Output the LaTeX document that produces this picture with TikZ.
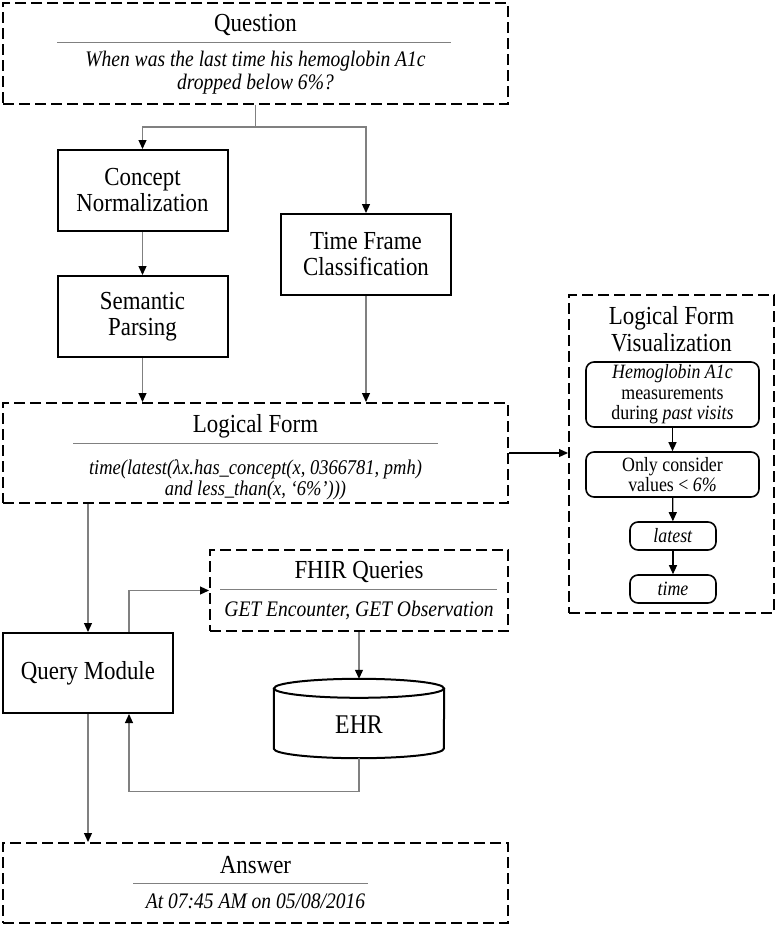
\documentclass[tikz,border=0pt]{standalone}
\usepackage{fontspec}
\setmainfont{Liberation Serif}[FakeStretch=0.88]
\usetikzlibrary{arrows.meta,positioning}
\definecolor{linegray}{rgb}{0.5,0.5,0.5}

\tikzset{
    solidbox/.style={draw, line width=2pt, minimum width=170pt, minimum height=81pt,
        align=center, font=\fontsize{26}{26}\selectfont},
    dashbox/.style={draw, line width=2pt, dash pattern=on 11pt off 5pt, inner sep=0pt},
    vizstep/.style={draw, line width=1.6pt, rounded corners=8pt, align=center,
        inner sep=0pt, font=\fontsize{20.3}{20.5}\selectfont},
    heading/.style={inner sep=0pt, align=center, font=\fontsize{26}{27}\selectfont},
    subtext/.style={inner sep=0pt, align=center, font=\fontsize{22.2}{22.5}\selectfont\itshape},
    sepline/.style={linegray, line width=1pt},
    conn/.style={linegray, line width=1.2pt, -{Triangle[color=black, length=9pt, width=8pt]}},
    flow/.style={black, line width=1.2pt, -{Triangle[length=9pt, width=8pt]}}
}

\begin{document}
\begin{tikzpicture}[x=1pt, y=-1pt]
    \useasboundingbox (0,0) rectangle (777,927);

    % question
    \node[dashbox, minimum width=505pt, minimum height=101pt] (question) at (255.5,53.5) {};
    \node[heading] (qtitle) at (255.5,25) {Question};
    \draw[sepline] (57,42) -- (451,42);
    \node[subtext] (qtext) at (255.5,72.5)
        {When was the last time his hemoglobin A1c\\dropped below 6\%?};

    \node[solidbox] (concept) at (142.5,190.5) {Concept\\Normalization};
    \node[solidbox] (semantic) at (142.5,316.5) {Semantic\\Parsing};
    \node[solidbox] (timeframe) at (366,254.5) {Time Frame\\Classification};

    % logical form
    \node[dashbox, minimum width=505pt, minimum height=100pt] (logical) at (255.5,453) {};
    \node[heading] (ltitle) at (255.5,426) {Logical Form};
    \draw[sepline] (73,443) -- (438,443);
    \node[subtext, font=\fontsize{21}{21}\selectfont\itshape] (ltext) at (255.5,480)
        {time(latest(λx.has\_concept(x, 0366781, pmh)\\and less\_than(x, ‘6\%’)))};

    % visualization
    \node[dashbox, minimum width=205pt, minimum height=318pt] (viz) at (671.5,454) {};
    \node[heading] (vtitle) at (671.5,329.5) {Logical Form\\Visualization};
    \node[vizstep, minimum width=173pt, minimum height=65pt] (hemo) at (672.5,394.5)
        {\textit{Hemoglobin A1c}\\measurements\\during \textit{past visits}};
    \node[vizstep, minimum width=173pt, minimum height=45pt] (consider) at (672.5,474.5)
        {Only consider\\values < \textit{6\%}};
    \node[vizstep, minimum width=86pt, minimum height=28pt] (latest) at (673,536) {\textit{latest}};
    \node[vizstep, minimum width=86pt, minimum height=28pt] (time) at (673,589) {\textit{time}};

    % fhir queries
    \node[dashbox, minimum width=298pt, minimum height=81pt] (fhir) at (359,590.5) {};
    \node[heading] (ftitle) at (359,572) {FHIR Queries};
    \draw[sepline] (220,589) -- (497,589);
    \node[subtext] (ftext) at (359,610) {GET Encounter, GET Observation};

    \node[solidbox, minimum height=80pt] (query) at (88,673) {Query Module};

    % ehr
    \node[minimum width=170pt, minimum height=79pt, inner sep=0pt, text height=29pt, text depth=0pt,
        font=\fontsize{27}{27}\selectfont] (ehr) at (359,718.5) {EHR};
    \draw[line width=2pt] ([yshift=-9.5pt]ehr.north west) -- ([yshift=9.5pt]ehr.south west)
        arc[start angle=180, end angle=360, x radius=85pt, y radius=9.5pt]
        -- ([yshift=-9.5pt]ehr.north east);
    \draw[line width=2pt] ([yshift=-9.5pt]ehr.north) ellipse [x radius=85pt, y radius=9.5pt];

    % answer
    \node[dashbox, minimum width=505pt, minimum height=80pt] (answer) at (255.5,883) {};
    \node[heading] (atitle) at (255.5,865) {Answer};
    \draw[sepline] (133,883) -- (368,883);
    \node[subtext] (atext) at (255.5,901) {At 07:45 AM on 05/08/2016};

    % connectors
    \coordinate (split) at (255.5,127);
    \draw[linegray, line width=1.2pt] (question.south) -- (split);
    \draw[conn] (split) -| (concept.north);
    \draw[conn] (split) -| (timeframe.north);
    \draw[conn] (concept) -- (semantic);
    \draw[conn] (semantic) -- (semantic |- logical.north);
    \draw[conn] (timeframe) -- (timeframe |- logical.north);
    \draw[flow] (logical.east) -- (viz.west |- logical.east);
    \draw[flow] (hemo) -- (consider);
    \draw[flow] (consider) -- (latest);
    \draw[flow] (latest) -- (time);
    \draw[conn] (query.north |- logical.south) -- (query);
    \draw[conn] ([xshift=41pt]query.north) |- (fhir.west);
    \draw[conn] (fhir) -- (ehr);
    \draw[conn] (ehr.south) -- ++(0,33) -| ([xshift=41pt]query.south);
    \draw[conn] (query) -- (query |- answer.north);
\end{tikzpicture}
\end{document}
